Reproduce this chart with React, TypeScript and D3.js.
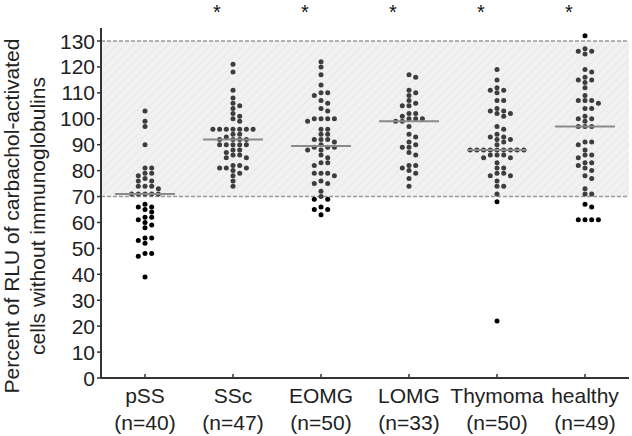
import React from 'react';
import * as d3 from 'd3';

// groups and their values (percent of RLU)
const categories = ['pSS', 'SSc', 'EOMG', 'LOMG', 'Thymoma', 'healthy'];
const significant = [false, true, true, true, true, true];
const yTicks = [0, 10, 20, 30, 40, 50, 60, 70, 80, 90, 100, 110, 120, 130];
const refLow = 70;
const refHigh = 130;

const pSS = [103, 99, 97, 90, 81, 81, 79, 79, 78, 77, 76, 76, 74, 74, 74, 73, 71, 71, 71, 71, 71,
    67, 66, 66, 65, 64, 62, 62, 61, 60, 59, 58, 54, 54, 53, 52, 48, 48, 47, 39];
const SSc = [121, 118, 111, 108, 106, 105, 104, 102, 101, 100, 99, 96, 96, 96, 96, 96, 96, 96,
    94, 94, 93, 92, 92, 92, 92, 90, 90, 90, 90, 90, 88, 88, 87, 86, 86, 85, 85,
    82, 82, 81, 81, 81, 80, 79, 78, 76, 74];
const EOMG = [122, 120, 117, 113, 110, 110, 109, 107, 106, 104, 103, 100, 100, 100, 100, 99,
    96, 96, 94, 94, 92, 92, 92, 91, 90, 89, 89, 89, 88, 88, 86, 85, 83, 83, 82,
    79, 79, 79, 78, 76, 75, 75, 72, 70, 69, 69, 66, 65, 65, 63];
const LOMG = [117, 116, 111, 110, 109, 107, 106, 105, 105, 102, 102, 101, 100, 100, 100, 99, 99,
    97, 94, 93, 91, 90, 89, 89, 87, 86, 82, 82, 81, 80, 79, 77, 74];
const Thymoma = [119, 115, 112, 111, 111, 110, 107, 107, 104, 103, 103, 102, 102, 101,
    97, 96, 94, 93, 93, 92, 92, 91, 90, 88, 88, 88, 88, 88, 88, 88, 88, 88,
    86, 86, 86, 85, 85, 83, 81, 81, 79, 79, 78, 78, 76, 74, 74, 71, 68, 22];
const healthy = [132, 127, 126, 126, 125, 119, 118, 116, 115, 115, 114, 112, 109, 107, 107, 107,
    106, 104, 104, 101, 100, 100, 99, 97, 97, 97, 91, 91, 90, 88, 86, 86, 85,
    83, 83, 82, 81, 80, 78, 77, 73, 71, 71, 67, 66, 61, 61, 61, 61];

const groups = [pSS, SSc, EOMG, LOMG, Thymoma, healthy];

const width = 632;
const height = 436;
const margin = {top: 41, right: 3, bottom: 58, left: 101};
const font = '"Liberation Sans", Arial, sans-serif';

// beeswarm: each dot goes to the nearest free slot, slots are fixed steps to either side
function swarm(values: number[], cx: number, y: d3.ScaleLinear<number, number>, step: number, minDist: number) {
    const placed: {x: number, y: number, v: number}[] = [];
    const sorted = [...values].sort((a, b) => b - a);
    sorted.forEach(v => {
        const py = y(v);
        for (let k = 0; k < 30; k++) {
            const off = k === 0 ? 0 : (k % 2 ? 1 : -1) * Math.ceil(k / 2) * step;
            const px = cx + off;
            if (placed.every(p => Math.hypot(p.x - px, p.y - py) >= minDist)) {
                placed.push({x: px, y: py, v});
                break;
            }
        }
    });
    return placed;
}

export default function App() {
    const x = d3.scaleBand().domain(categories).range([margin.left, width - margin.right]);
    const y = d3.scaleLinear().domain([0, 130]).range([height - margin.bottom, margin.top]);
    const x0 = margin.left;
    const x1 = width - margin.right;
    const y0 = y(0);

    return (
        <svg width={width} height={height} style={{position: 'absolute', left: 0, top: 0, background: '#fff'}}
             fontFamily={font}>
            <defs>
                <pattern id="hatch" width="6" height="6" patternUnits="userSpaceOnUse" patternTransform="rotate(45)">
                    <rect width="6" height="6" fill="#f1f1f1"/>
                    <line x1="0" y1="0" x2="0" y2="6" stroke="#e6e6e6" strokeWidth="1.5"/>
                </pattern>
            </defs>

            {/* reference band */}
            <rect x={x0} y={y(refHigh)} width={x1 - x0} height={y(refLow) - y(refHigh)} fill="url(#hatch)"/>
            {[refLow, refHigh].map(v => (
                <line key={v} x1={x0} x2={x1} y1={y(v)} y2={y(v)} stroke="#999" strokeWidth={1.5}
                      strokeDasharray="4,2"/>
            ))}

            {/* dots */}
            {groups.map((vals, i) => {
                const cx = (x(categories[i]) as number) + x.bandwidth() / 2;
                return swarm(vals, cx, y, 6.7, 5.0).map((d, j) => (
                    <circle key={i + '-' + j} cx={d.x} cy={d.y} r={2.5}
                            fill={d.v >= refLow && d.v <= refHigh ? '#3d3d3d' : '#000'}/>
                ));
            })}

            {/* medians */}
            {groups.map((vals, i) => {
                const cx = (x(categories[i]) as number) + x.bandwidth() / 2;
                const m = d3.median(vals) as number;
                return <line key={'m' + i} x1={cx - 30} x2={cx + 30} y1={y(m)} y2={y(m)}
                             stroke="#8a8a8a" strokeWidth={2}/>;
            })}

            {/* y axis */}
            <line x1={x0} x2={x0} y1={y0} y2={28} stroke="#333" strokeWidth={2}/>
            {yTicks.map(t => (
                <g key={t} transform={`translate(0,${y(t)})`}>
                    <line x1={x0 - 4} x2={x0} stroke="#333" strokeWidth={1.5}/>
                    <text x={x0 - 6} dy="0.36em" textAnchor="end" fontSize={21} fill="#222">{t}</text>
                </g>
            ))}

            {/* x axis */}
            <line x1={x0} x2={x1} y1={y0} y2={y0} stroke="#333" strokeWidth={2}/>
            {categories.map((c, i) => {
                const cx = (x(c) as number) + x.bandwidth() / 2;
                return (
                    <g key={c}>
                        <line x1={cx} x2={cx} y1={y0} y2={y0 - 4} stroke="#333" strokeWidth={1.5}/>
                        <text x={cx} y={403} textAnchor="middle" fontSize={21} fill="#222">{c}</text>
                        <text x={cx} y={430} textAnchor="middle" fontSize={21} fill="#222">{`(n=${groups[i].length})`}</text>
                        {significant[i] && (
                            <text x={cx - 16} y={19} textAnchor="middle" fontSize={20} fill="#111">*</text>
                        )}
                    </g>
                );
            })}

            {/* y label */}
            <g transform="translate(0,216) rotate(-90)" fontSize={21} fill="#222" textAnchor="middle">
                <text x={0} y={19}>Percent of RLU of carbachol-activated</text>
                <text x={0} y={45}>cells without immunoglobulins</text>
            </g>
        </svg>
    );
}
